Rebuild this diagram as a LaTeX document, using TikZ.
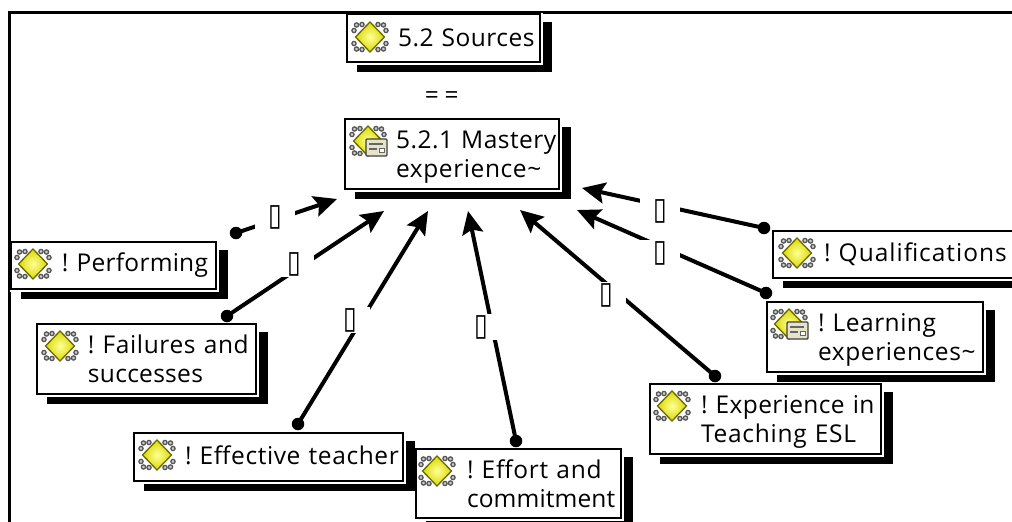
\documentclass[tikz,border=0pt]{standalone}
\usepackage{graphicx}
\usepackage{fontspec}
\setmainfont[LetterSpace=3,WordSpace=0.8]{Open Sans}
\newfontfamily\symfont{DejaVu Sans}
\usetikzlibrary{arrows.meta,backgrounds,calc}
\definecolor{ringgray}{HTML}{555555}
\definecolor{iconedge}{HTML}{6E6800}
\definecolor{memofill}{HTML}{E6E4C8}
\newcommand{\lowr}{\rule{0pt}{24pt}}
\newcommand{\highr}{\rule[-4pt]{0pt}{4pt}}
\newcommand{\ls}[2]{{\addfontfeature{LetterSpace=#1}#2}}
\newcommand{\tofu}{\scalebox{0.8}[1]{▯}}
\tikzset{
  box/.style 2 args={draw=black,fill=white,line width=1.6pt,rectangle,anchor=north west,
    outer sep=0pt,inner sep=0pt,minimum width=#1 pt,minimum height=#2 pt,text width=#1 pt,align=left,
    font=\fontsize{24.5}{29}\selectfont,
    execute at begin node={\frenchspacing\leftskip=51pt\rightskip=-60pt plus 1fil\relax}},
  conn/.style={line width=4pt,-{Stealth[length=23pt,width=21pt,inset=4pt]}},
  dotend/.style={circle,fill=black,inner sep=0pt,minimum size=12.5pt,outer sep=0pt},
  lbl/.style={fill=white,inner sep=0pt,minimum width=40pt,minimum height=26pt,
    font=\symfont\fontsize{31}{31}\selectfont},
  plainlabel/.style={inner sep=0pt,font=\fontsize{24.5}{29}\selectfont},
  ring/.style={draw=ringgray,fill=white!60!gray,line width=1.3pt},
  gicon/.pic={
    \foreach \sx in {-1,1}\foreach \sy in {-1,1}{
      \path[ring] (\sx*8,\sy*12.5) circle (2.1pt);
      \path[ring] (\sx*13.5,\sy*12) circle (2.1pt);
      \path[ring] (\sx*16,\sy*6.5) circle (2.1pt);
    }
    \draw[draw=iconedge,line width=1.3pt,shading=radial,inner color=yellow!40!white,outer color=yellow!85!black]
      (-14.5,0) -- (0,-15) -- (14.5,0) -- (0,15) -- cycle;
  },
  memoicon/.pic={
    \path[draw=black!75,fill=memofill,line width=1.4pt,rounded corners=1pt] (-2,-2) rectangle (19,15);
    \path[draw=black!60,line width=1.3pt] (1,3) -- (15,3) (1,8) -- (9,8);
    \path[draw=black!60,fill=white,line width=.8pt] (11,7) rectangle (16,11);
  },
}
\begin{document}
\begin{tikzpicture}[x=1pt,y=-1pt]
\useasboundingbox (0,0) rectangle (1012,522);
\clip (0,0) rectangle (1012,522);

\node[box={193}{48}] (src) at (347,14) {\ls{2}{5.2 Sources}};
\node[box={214}{70}] (mas) at (345,119) {\lowr\ls{2}{5.2.1 Mastery}\\\ls{2.5}{experience\textasciitilde}};
\node[box={205}{47}] (per) at (11,242) {\ls{1}{! Performing}};
\node[box={219}{70}] (fai) at (37,324) {\ls{2.5}{! Failures and}\\\ls{1.2}{successes}};
\node[box={269}{48}] (eft) at (134,433) {\highr\ls{2.5}{! Effective teacher}};
\node[box={205}{69}] (eff) at (416,449) {\ls{3}{! Effort and}\\\ls{0.5}{commitment}};
\node[box={231}{70}] (exp) at (650,384) {\lowr\ls{1.5}{! Experience in}\\\ls{3}{Teaching ESL}};
\node[box={216}{70}] (lea) at (767,302) {\lowr\ls{2}{! Learning}\\\ls{2.5}{experiences\textasciitilde}};
\node[box={250}{47}] (qua) at (773,231) {\ls{4}{! Qualifications}};

\node[plainlabel] (eq) at (441.7,98) {= =};

\begin{scope}[on background layer]
  \draw[line width=3pt] (9.5,530) -- (9.5,12) -- (1020,12);
  \foreach \n in {src,mas,per,fai,eft,eff,exp,lea,qua}{
    \fill[black] ($(\n.north west)+(10,8)$) rectangle ($(\n.south east)+(11.5,9.5)$);
    \fill[white] ($(\n.north west)+(-1,-1)$) rectangle ($(\n.south east)+(2.5,2.5)$);
  }
\end{scope}

\pic at ($(src.north west)+(23,23)$) {gicon};
\pic at ($(mas.north west)+(23,22)$) {gicon};
\pic at ($(mas.north west)+(23,22)$) {memoicon};
\pic at ($(per.north west)+(22,22)$) {gicon};
\pic at ($(fai.north west)+(23,22)$) {gicon};
\pic at ($(eft.north west)+(23,22)$) {gicon};
\pic at ($(eff.north west)+(21,22)$) {gicon};
\pic at ($(exp.north west)+(22,22)$) {gicon};
\pic at ($(lea.north west)+(22,22)$) {gicon};
\pic at ($(lea.north west)+(22,22)$) {memoicon};
\pic at ($(qua.north west)+(24,22)$) {gicon};

\node[dotend] (dper) at (236,233) {};
\node[dotend] (dfai) at (227,316) {};
\node[dotend] (deft) at (298,424) {};
\node[dotend] (deff) at (516,441) {};
\node[dotend] (dexp) at (715,376) {};
\node[dotend] (dlea) at (766,293) {};
\node[dotend] (dqua) at (764,228) {};

\coordinate (tper) at (337,199);
\coordinate (tfai) at (384,211);
\coordinate (teft) at (428,211);
\coordinate (teff) at (468,211);
\coordinate (texp) at (520,210);
\coordinate (tlea) at (577,210);
\coordinate (tqua) at (582,188);

\draw[conn] (dper.center) -- (tper);
\draw[conn] (dfai.center) -- (tfai);
\draw[conn] (deft.center) -- (teft);
\draw[conn] (deff.center) -- (teff);
\draw[conn] (dexp.center) -- (texp);
\draw[conn] (dlea.center) -- (tlea);
\draw[conn] (dqua.center) -- (tqua);

\node[lbl] (lper) at (275,217) {\tofu};
\node[lbl] (lfai) at (294,264) {\tofu};
\node[lbl] (left) at (350,320) {\tofu};
\node[lbl] (leff) at (481,327) {\tofu};
\node[lbl] (lexp) at (606,295) {\tofu};
\node[lbl] (llea) at (660,253) {\tofu};
\node[lbl] (lqua) at (660,211) {\tofu};
\end{tikzpicture}
\end{document}
